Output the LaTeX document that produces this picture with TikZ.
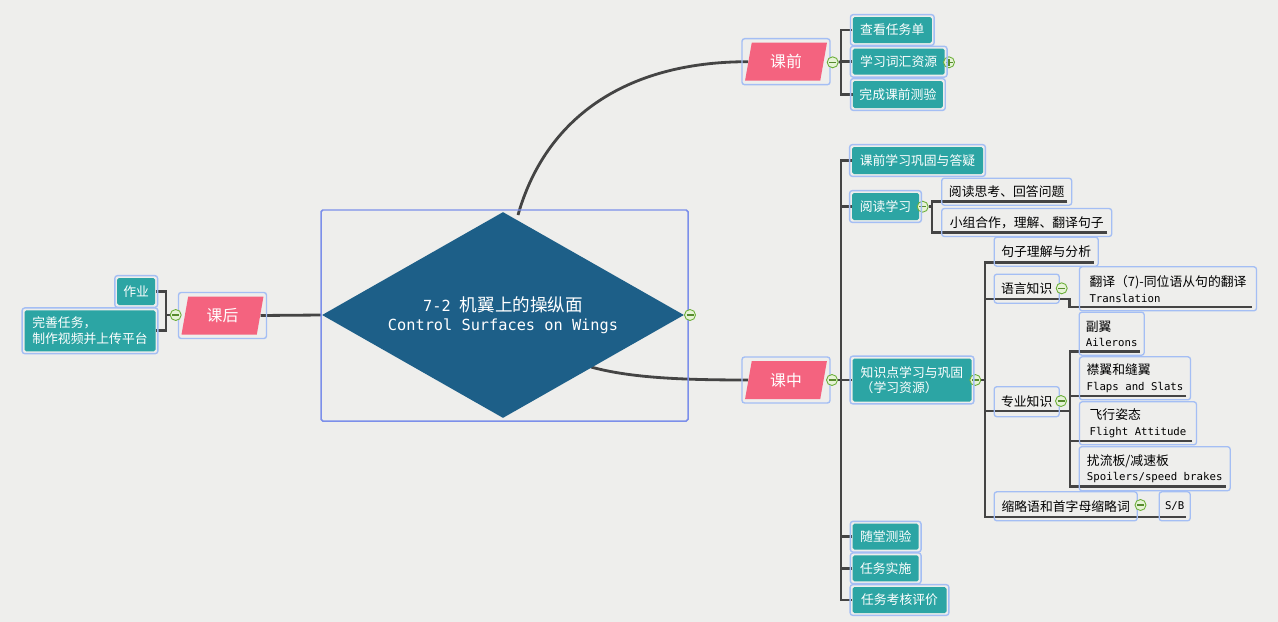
\documentclass[tikz,border=0pt]{standalone}
\usepackage{fontspec}
\setmainfont{Noto Sans CJK SC}
\setmonofont{DejaVu Sans Mono}
\usepackage{tikz}
\usetikzlibrary{shapes.geometric}
\definecolor{mapteal}{HTML}{2CA5A4}
\definecolor{mappink}{HTML}{F4637F}
\definecolor{mapnavy}{HTML}{1D5F88}
\definecolor{mapframe}{HTML}{A4BEF4}
\definecolor{mapedge}{HTML}{7C8FEA}
\definecolor{mapline}{HTML}{444444}
\definecolor{mappaper}{HTML}{EEEEEC}
\definecolor{mapgreen}{HTML}{6BAE38}
\definecolor{mapleaf}{HTML}{E6F3D6}
\newcommand{\en}[1]{{\ttfamily\fontsize{6.1}{8.9}\selectfont #1}}
\pgfdeclarelayer{paper}
\pgfdeclarelayer{wires}
\pgfsetlayers{paper,wires,main}

\begin{document}
\begin{tikzpicture}[x=0.02cm, y=-0.02cm, font=\fontsize{7.3}{8.9}\selectfont,
    sz/.style 2 args={minimum width=#1*0.02cm, minimum height=#2*0.02cm},
    leaf/.style={fill=mapteal, text=white, rounded corners=1pt, inner sep=0pt},
    note/.style={draw=mapframe, line width=0.75pt, rounded corners=1.5pt, inner sep=0pt, align=left},
    phase/.style={trapezium, trapezium left angle=78, trapezium right angle=102,
      trapezium stretches=true, fill=mappink, text=white, inner sep=0pt,
      minimum width=1.64cm, minimum height=0.76cm, font=\fontsize{9}{10}\selectfont},
    conn/.style={draw=mapline, line width=1.6pt},
    selframe/.style={draw=mapframe, line width=0.8pt, rounded corners=1.5pt},
    fold/.style={circle, draw=mapgreen, fill=mapleaf, line width=0.5pt, minimum size=0.22cm, inner sep=0pt,
      path picture={\draw[mapgreen!80!black, line width=0.9pt]
        ([xshift=-0.07cm]path picture bounding box.center) -- ([xshift=0.07cm]path picture bounding box.center);}},
    unfold/.style={circle, draw=mapgreen, fill=mapleaf, line width=0.5pt, minimum size=0.22cm, inner sep=0pt,
      path picture={\draw[mapgreen!80!black, line width=0.9pt]
        ([xshift=-0.07cm]path picture bounding box.center) -- ([xshift=0.07cm]path picture bounding box.center)
        ([yshift=-0.07cm]path picture bounding box.center) -- ([yshift=0.07cm]path picture bounding box.center);}}]

  \begin{pgfonlayer}{paper}
    \fill[mappaper] (0,0) rectangle (1278,622);
  \end{pgfonlayer}
  \useasboundingbox (0,0) rectangle (1278,622);

  % topic
  \node[diamond, aspect=1.75, fill=mapnavy, text=white, inner sep=0pt, sz={362}{206}, align=center] (topic) at (503,315)
    {{\ttfamily\fontsize{8.7}{13}\selectfont 7-2\ }{\fontsize{10}{13}\selectfont 机翼上的操纵面}\\[0.07cm]
     {\ttfamily\fontsize{8.7}{13}\selectfont Control Surfaces on Wings}};
  \draw[draw=mapedge, line width=0.85pt, rounded corners=1pt]
    ([shift={(-182,-105)}]topic.center) rectangle ([shift={(185,106)}]topic.center);
  \node[fold] (mt) at (690,315) {};

  % phases
  \node[phase] (qian) at (786,61.7) {课前};
  \node[phase] (zhong) at (786,380) {课中};
  \node[phase] (hou) at (222.5,315.5) {课后};
  \foreach \n in {qian,zhong,hou}
    \draw[selframe] ([shift={(-44,23)}]\n.center) rectangle ([shift={(44,-23)}]\n.center);
  \node[fold] (mq) at (832.7,62.3) {};
  \node[fold] (mz) at (832,380) {};
  \node[fold] (mh) at (175.7,315) {};

  % before class
  \node[leaf, sz={79}{26}] (renwudan) at (892.3,30) {查看任务单};
  \node[leaf, sz={92}{26}] (cihui) at (898.7,61.7) {学习词汇资源};
  \node[leaf, sz={90}{27}] (ceyan) at (897.9,94.5) {完成课前测验};
  \node[unfold] (mc) at (949,62.3) {};

  % in class
  \node[leaf, sz={131}{27}] (gonggu) at (917.5,160.5) {课前学习巩固与答疑};
  \node[leaf, sz={67}{27}] (yuedu) at (885.5,206.5) {阅读学习};
  \node[leaf, sz={119}{43}, align=left] (zhishi) at (912,380) {知识点学习与巩固\\（学习资源）};
  \node[leaf, sz={66}{26}] (suitang) at (885.7,536.7) {随堂测验};
  \node[leaf, sz={66}{26}] (shishi) at (885.7,568.3) {任务实施};
  \node[leaf, sz={94}{26}] (pingjia) at (899.5,600) {任务考核评价};
  \node[fold] (my) at (922.7,206.7) {};
  \node[fold] (mzs) at (975.3,380) {};

  \node[note, sz={130}{27}] (sikao) at (1006.7,191.7) {阅读思考、回答问题};
  \node[note, sz={170}{28}] (hezuo) at (1026.7,222.5) {小组合作，理解、翻译句子};
  \node[note, sz={104}{29}] (juzi) at (1046.2,251.7) {句子理解与分析};
  \node[note, sz={65}{29}] (yuyan) at (1026.7,288.7) {语言知识};
  \node[note, sz={177}{44}] (fanyi) at (1168,288.8) {翻译（7)-同位语从句的翻译\\\en{Translation}};
  \node[note, sz={65}{30}] (zhuanye) at (1026.7,401.7) {专业知识};
  \node[note, sz={65}{43}] (fuyi) at (1111.7,333.7) {副翼\\\en{Ailerons}};
  \node[note, sz={111}{43}] (jinyi) at (1135,378.3) {襟翼和缝翼\\\en{Flaps and Slats}};
  \node[note, sz={117}{43}] (zitai) at (1138,423.3) {飞行姿态\\\en{Flight Attitude}};
  \node[note, sz={151}{44}] (raoliu) at (1154.7,468.7) {扰流板/减速板\\\en{Spoilers/speed brakes}};
  \node[note, sz={143}{29}] (suolue) at (1065.7,506.3) {缩略语和首字母缩略词};
  \node[note, sz={31}{29}] (sb) at (1174.7,506.3) {\en{S/B}};
  \node[fold] (myy) at (1061.7,288.3) {};
  \node[fold] (mzy) at (1061,401) {};
  \node[fold] (msl) at (1140.5,505) {};

  % after class
  \node[leaf, sz={38}{27}] (zuoye) at (136.2,291.5) {作业};
  \node[leaf, sz={131}{41}, align=left] (wanshan) at (90,330.8) {完善任务，\\制作视频并上传平台};

  \foreach \n in {renwudan,cihui,ceyan,gonggu,yuedu,zhishi,suitang,shishi,pingjia,zuoye,wanshan}
    \draw[selframe] ([shift={(-2,2)}]\n.south west) rectangle ([shift={(2,-2)}]\n.north east);
  \foreach \n in {sikao,hezuo,juzi,yuyan,fanyi,zhuanye,fuyi,jinyi,zitai,raoliu,suolue,sb}
    \coordinate (\n-ul) at ([shift={(-5,-4.5)}]\n.south east);

  \coordinate (qx) at (841,62);
  \coordinate (zx) at (841,380);
  \coordinate (hx) at (166,315);
  \coordinate (yx) at (932,206.7);
  \coordinate (zsx) at (985,380);
  \coordinate (yyx) at (1069.5,299);
  \coordinate (zyx) at (1070,411);

  \begin{pgfonlayer}{wires}
    \draw[conn] ([shift={(15,-100)}]topic.center) .. controls +(27,-95) and +(-125,0) .. (qian.west);
    \draw[conn] ([shift={(88,52)}]topic.center) .. controls +(40,11) and +(-65,0) .. (zhong.west);
    \draw[conn] (hou.east) -- (topic.west);

    \draw[conn] (mq) -- (qx);
    \foreach \n in {renwudan,cihui,ceyan}
      \draw[conn] (\n.west) -| (qx);
    \draw[conn] (mz) -- (zx);
    \foreach \n in {gonggu,yuedu,zhishi,suitang,shishi,pingjia}
      \draw[conn] (\n.west) -| (zx);
    \draw[conn] (mh) -- (hx);
    \foreach \n in {zuoye,wanshan}
      \draw[conn] (\n.east) -| (hx);

    \draw[conn] (my) -- (yx);
    \foreach \n in {sikao,hezuo}
      \draw[conn] (\n-ul) -| (yx);
    \draw[conn] (mzs) -- (zsx);
    \foreach \n in {juzi,sb}
      \draw[conn] (\n-ul) -| (zsx);
    \draw[conn] (fanyi-ul) -| (yyx) -| (zsx);
    \draw[conn] (fuyi-ul) -| (zyx) -| (zsx);
    \foreach \n in {jinyi,zitai,raoliu}
      \draw[conn] (\n-ul) -| (zyx);
  \end{pgfonlayer}
\end{tikzpicture}
\end{document}
